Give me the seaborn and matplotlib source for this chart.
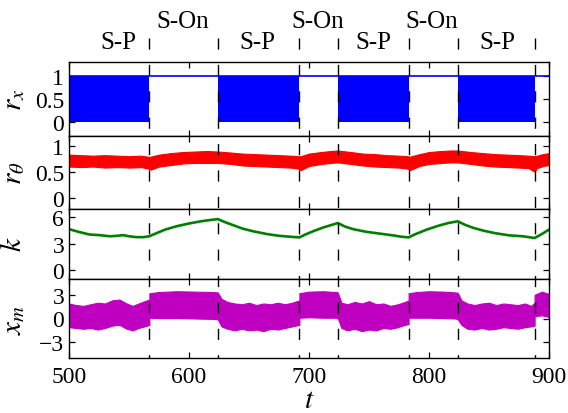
import matplotlib
matplotlib.use("Agg")
import matplotlib.pyplot as plt
import matplotlib.transforms as mtransforms
import numpy as np
import pandas as pd
import seaborn as sns

# ---------------- data ----------------
boundaries = [567, 624, 692, 724, 783, 824, 888]
phase_labels = ["S-P", "S-On", "S-P", "S-On", "S-P", "S-On", "S-P"]
phase_label_t = [541, 595, 657, 707.5, 754, 802.5, 857]
phase_rows = [0, 1, 0, 1, 0, 1, 0]   # 0 = lower row, 1 = upper row

# r_x : fast switching 0/1 during S-P (solid block), constant 1 during S-On
rx_t = [500, 567, 567, 624, 624, 692, 692, 724, 724, 783, 783, 824, 824, 888, 888, 900]
rx_low = [0, 0, 1, 1, 0, 0, 1, 1, 0, 0, 1, 1, 0, 0, 1, 1]
rx_high = [1] * 16

# r_theta : noisy band (lower / upper envelope)
th_t = [500, 510, 520, 530, 540, 550, 560, 566, 568, 575, 585, 595, 605, 615, 624,
        635, 645, 655, 665, 675, 685, 691, 693, 700, 710, 718, 724, 735, 745, 755,
        765, 775, 782, 784, 792, 800, 810, 818, 824, 835, 845, 855, 865, 875, 883,
        888, 890, 895, 900]
th_lo = [0.61, 0.60, 0.61, 0.59, 0.60, 0.59, 0.60, 0.57, 0.55, 0.61, 0.64, 0.67, 0.68, 0.68, 0.68,
         0.66, 0.63, 0.62, 0.61, 0.60, 0.59, 0.57, 0.54, 0.62, 0.66, 0.68, 0.69, 0.66, 0.63, 0.61,
         0.60, 0.59, 0.57, 0.54, 0.62, 0.66, 0.68, 0.69, 0.69, 0.66, 0.63, 0.61, 0.60, 0.59, 0.58,
         0.51, 0.58, 0.62, 0.64]
th_hi = [0.84, 0.83, 0.82, 0.83, 0.82, 0.81, 0.82, 0.80, 0.80, 0.84, 0.87, 0.89, 0.90, 0.91, 0.90,
         0.88, 0.86, 0.85, 0.84, 0.83, 0.82, 0.81, 0.81, 0.86, 0.89, 0.91, 0.92, 0.89, 0.86, 0.85,
         0.83, 0.82, 0.81, 0.80, 0.85, 0.89, 0.91, 0.92, 0.92, 0.89, 0.87, 0.85, 0.84, 0.83, 0.82,
         0.81, 0.82, 0.85, 0.87]

# k : slow variable
k_t = [500, 508, 517, 525, 534, 540, 545, 550, 556, 562, 567, 572, 580, 590, 600, 610, 618,
       624, 630, 637, 645, 654, 665, 675, 684, 692, 697, 704, 712, 718, 724, 730, 737, 748,
       759, 770, 777, 783, 788, 798, 808, 816, 824, 830, 837, 845, 855, 867, 878, 888, 894, 900]
k_val = [4.66, 4.35, 4.05, 3.98, 3.85, 3.90, 3.98, 3.85, 3.75, 3.75, 3.85, 4.15, 4.60, 5.00,
         5.30, 5.55, 5.70, 5.80, 5.45, 5.10, 4.70, 4.40, 4.10, 3.90, 3.80, 3.72, 4.05, 4.45,
         4.85, 5.10, 5.35, 4.95, 4.65, 4.35, 4.15, 3.95, 3.80, 3.72, 4.05, 4.60, 5.05, 5.35,
         5.55, 5.15, 4.80, 4.50, 4.20, 3.95, 3.85, 3.65, 4.10, 4.60]

# x_m : fast oscillating variable, shown as its envelope
xm_t = [500, 506, 512, 518, 524, 530, 536, 542, 548, 553, 558, 563, 567,
        567, 575, 590, 605, 620, 624,
        627, 632, 638, 644, 650, 656, 662, 668, 674, 680, 686, 692,
        692, 700, 712, 722, 724,
        727, 732, 738, 744, 750, 756, 762, 768, 774, 780, 783,
        783, 790, 800, 812, 822, 824,
        827, 832, 838, 844, 850, 856, 862, 868, 874, 880, 885, 888,
        888, 894, 900]
xm_hi = [1.9, 1.7, 1.6, 1.8, 2.0, 1.9, 2.3, 2.4, 1.9, 1.6, 1.9, 2.2, 2.4,
         3.2, 3.35, 3.45, 3.4, 3.35, 3.3,
         2.5, 2.1, 1.9, 1.8, 2.0, 1.7, 1.9, 1.8, 2.0, 1.8, 2.0, 2.3,
         3.2, 3.4, 3.45, 3.35, 3.3,
         2.0, 1.8, 2.1, 1.9, 2.2, 1.8, 1.9, 1.6, 1.8, 2.1, 2.3,
         3.2, 3.35, 3.45, 3.4, 3.3, 3.25,
         2.3, 1.9, 1.7, 1.9, 2.0, 1.7, 1.9, 1.8, 1.7, 1.9, 1.6, 2.0,
         3.0, 3.4, 3.1]
xm_lo = [-1.1, -1.2, -1.3, -1.2, -1.4, -1.2, -0.9, -0.8, -1.3, -1.5, -1.2, -1.0, -0.8,
         0.1, 0.05, 0.05, 0.0, -0.05, -0.1,
         -1.0, -1.3, -1.5, -1.3, -1.5, -1.4, -1.6, -1.3, -1.4, -1.2, -1.0, -0.8,
         0.1, 0.15, 0.1, 0.1, 0.05,
         -1.2, -1.5, -1.3, -1.6, -1.4, -1.5, -1.2, -1.3, -1.1, -0.8, -0.7,
         0.1, 0.1, 0.1, 0.05, 0.0, -0.1,
         -0.8, -1.3, -1.4, -1.2, -1.4, -1.3, -1.1, -1.2, -1.3, -1.1, -1.0, -0.9,
         0.3, 0.4, 0.2]

# ---------------- style ----------------
sns.set_theme(style="ticks")
plt.rcParams.update({
    "font.family": ["Liberation Serif", "DejaVu Serif"],
    "mathtext.fontset": "stix",
    "xtick.direction": "in", "ytick.direction": "in",
    "xtick.top": True, "ytick.right": True,
    "xtick.major.size": 4, "ytick.major.size": 4,
    "xtick.major.width": 0.9, "ytick.major.width": 0.9,
    "axes.linewidth": 1.0, "axes.edgecolor": "black",
    "xtick.color": "black", "ytick.color": "black",
    "xtick.labelsize": 17, "ytick.labelsize": 17,
    "axes.labelsize": 21, "text.color": "black", "axes.labelcolor": "black",
})

fig = plt.figure(figsize=(5.68, 4.14), dpi=100)
gs = fig.add_gridspec(4, 1, left=69 / 568, right=549 / 568, top=1 - 63 / 414,
                      bottom=1 - 359 / 414, hspace=0, height_ratios=[74, 72.5, 70.5, 79])
ax1 = fig.add_subplot(gs[0])
ax2 = fig.add_subplot(gs[1], sharex=ax1)
ax3 = fig.add_subplot(gs[2], sharex=ax1)
ax4 = fig.add_subplot(gs[3], sharex=ax1)
axes = [ax1, ax2, ax3, ax4]

BLUE, RED, GREEN, MAG = "#0000ff", "#ff0000", "#008000", "#c000c0"

# panel 1: r_x
ax1.fill_between(rx_t, rx_low, rx_high, color=BLUE, linewidth=0)
sns.lineplot(x=[rx_t[0], rx_t[-1]], y=[rx_high[0], rx_high[-1]], ax=ax1, color=BLUE, linewidth=1.2)
ax1.set_ylim(-0.3, 1.3)
ax1.set_yticks([0, 0.5, 1])
ax1.set_yticklabels(["0", "0.5", "1"])
ax1.set_ylabel(r"$r_x$")

# panel 2: r_theta
ax2.fill_between(th_t, th_lo, th_hi, color=RED, linewidth=0.8, edgecolor=RED)
ax2.set_ylim(-0.2, 1.2)
ax2.set_yticks([0, 0.5, 1])
ax2.set_yticklabels(["0", "0.5", "1"])
ax2.set_ylabel(r"$r_\theta$")

# panel 3: k
df_k = pd.DataFrame({"t": k_t, "k": k_val})
sns.lineplot(data=df_k, x="t", y="k", ax=ax3, color=GREEN, linewidth=1.9)
ax3.set_ylim(-1, 7)
ax3.set_yticks([0, 3, 6])
ax3.set_ylabel(r"$k$")

# panel 4: x_m
ax4.fill_between(xm_t, xm_lo, xm_hi, color=MAG, linewidth=0.8, edgecolor=MAG)
ax4.set_ylim(-5, 5)
ax4.set_yticks([-3, 0, 3])
ax4.set_ylabel(r"$x_m$")
ax4.set_xlabel(r"$t$", labelpad=0)

for ax in axes:
    ax.set_xlim(500, 900)
    ax.set_xticks([500, 600, 700, 800, 900])
    ax.yaxis.set_label_coords(-0.088, 0.5)
    ax.tick_params(axis="x", pad=6)
for ax in axes[:-1]:
    ax.tick_params(labelbottom=False)
    ax.set_xlabel("")

# dashed phase boundaries spanning all panels and the label strip
trans = mtransforms.blended_transform_factory(ax4.transData, ax4.transAxes)
top_axes = (359 - 39) / 79.0
for b in boundaries:
    ax4.plot([b, b], [top_axes, 0], transform=trans, clip_on=False, color="black",
             linewidth=1.0, dashes=(8, 11), zorder=10)

# phase labels
trans1 = mtransforms.blended_transform_factory(ax1.transData, ax1.transAxes)
for lab, tx, row in zip(phase_labels, phase_label_t, phase_rows):
    y = 1.27 if row == 0 else 1.55
    ax1.text(tx, y, lab, transform=trans1, ha="center", va="center", fontsize=18)

fig.savefig("out.png", dpi=100)
